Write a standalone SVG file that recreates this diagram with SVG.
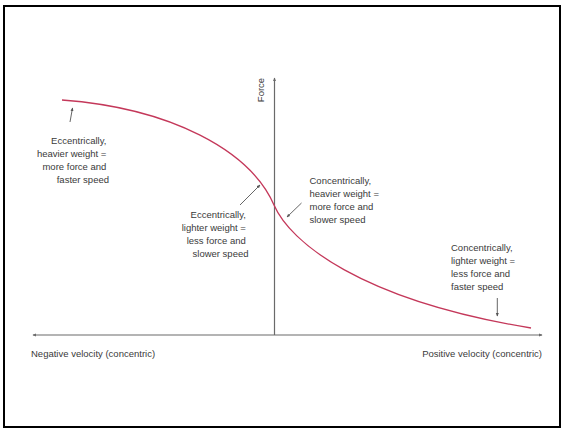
<svg xmlns="http://www.w3.org/2000/svg" width="563" height="429" viewBox="0 0 563 429">
  <style>
    .lbl { font-family: "Liberation Sans", Arial, sans-serif; font-size: 9.5px; fill: #3a3a3a; }
    .axis { stroke: #6a6a6a; stroke-width: 1.2; fill: none; }
    .ptr { stroke: #555; stroke-width: 0.9; fill: none; }
    .curve { stroke: #c4385a; stroke-width: 1.3; fill: none; }
  </style>
  <defs>
    <marker id="tip" viewBox="0 0 6 6" refX="5" refY="3" markerWidth="4" markerHeight="4" orient="auto-start-reverse">
      <path d="M0,0.5 L6,3 L0,5.5 Z" fill="#555"/>
    </marker>
    <marker id="axtip" viewBox="0 0 6 6" refX="5" refY="3" markerWidth="3" markerHeight="3" orient="auto-start-reverse">
      <path d="M0,0.5 L6,3 L0,5.5 Z" fill="#6a6a6a"/>
    </marker>
  </defs>

  <rect x="0" y="0" width="563" height="429" fill="#fff"/>
  <rect x="4" y="6" width="556" height="421" fill="none" stroke="#000" stroke-width="2"/>

  <!-- axes -->
  <g id="axes">
    <line class="axis" x1="33" y1="335" x2="542" y2="335" marker-start="url(#axtip)" marker-end="url(#axtip)"/>
    <line class="axis" x1="274.5" y1="335" x2="274.5" y2="78" marker-end="url(#axtip)"/>
    <text class="lbl" transform="translate(264,90) rotate(-90)" text-anchor="middle">Force</text>
    <text class="lbl" x="31" y="357">Negative velocity (concentric)</text>
    <text class="lbl" x="542" y="357" text-anchor="end">Positive velocity (concentric)</text>
  </g>

  <!-- force-velocity curve -->
  <g id="curve">
    <path class="curve" d="M62,100 C170,108 250,150 274,205 C290,242 360,300 531,328"/>
  </g>

  <!-- connectors -->
  <g id="connectors">
    <line class="ptr" x1="70" y1="122" x2="72.5" y2="108" marker-end="url(#tip)"/>
    <line class="ptr" x1="240" y1="205" x2="260" y2="185" marker-end="url(#tip)"/>
    <line class="ptr" x1="301.5" y1="203" x2="287" y2="217" marker-end="url(#tip)"/>
    <line class="ptr" x1="497.3" y1="298" x2="497.3" y2="316" marker-end="url(#tip)"/>
  </g>

  <g id="ecc-heavy">
    <text class="lbl" text-anchor="end">
      <tspan x="109" y="143.5">Eccentrically,</tspan>
      <tspan x="109" y="156.5">heavier weight =</tspan>
      <tspan x="109" y="169.5">more force and</tspan>
      <tspan x="109" y="182.5">faster speed</tspan>
    </text>
  </g>

  <g id="ecc-light">
    <text class="lbl" text-anchor="end">
      <tspan x="248.5" y="217.5">Eccentrically,</tspan>
      <tspan x="248.5" y="230.5">lighter weight =</tspan>
      <tspan x="248.5" y="243.5">less force and</tspan>
      <tspan x="248.5" y="256.5">slower speed</tspan>
    </text>
  </g>

  <g id="con-heavy">
    <text class="lbl">
      <tspan x="309.5" y="183.5">Concentrically,</tspan>
      <tspan x="309.5" y="196.5">heavier weight =</tspan>
      <tspan x="309.5" y="209.5">more force and</tspan>
      <tspan x="309.5" y="222.5">slower speed</tspan>
    </text>
  </g>

  <g id="con-light">
    <text class="lbl">
      <tspan x="451" y="250.5">Concentrically,</tspan>
      <tspan x="451" y="263.5">lighter weight =</tspan>
      <tspan x="451" y="276.5">less force and</tspan>
      <tspan x="451" y="289.5">faster speed</tspan>
    </text>
  </g>
</svg>
